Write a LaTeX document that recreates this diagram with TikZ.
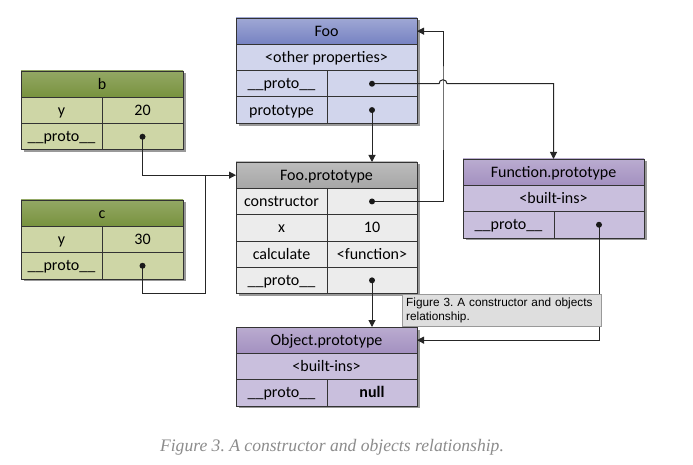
\documentclass[tikz,border=0pt]{standalone}
\usepackage{fontspec}
\setmainfont{Carlito}
\newfontfamily\tipfont{Liberation Sans}
\newfontfamily\capfont{Liberation Serif}
\usetikzlibrary{positioning,shadows,arrows.meta,calc}
\frenchspacing

\definecolor{bluehd}{RGB}{118,130,194}
\definecolor{bluerow}{RGB}{209,213,236}
\definecolor{greenhd}{RGB}{120,146,62}
\definecolor{greenrow}{RGB}{206,214,166}
\definecolor{grayhd}{RGB}{166,166,166}
\definecolor{grayrow}{RGB}{236,236,236}
\definecolor{purphd}{RGB}{163,144,192}
\definecolor{purprow}{RGB}{201,191,221}

\begin{document}
\begin{tikzpicture}[x=1pt,y=-1pt,>={Triangle[length=7pt,width=7pt]},
every node/.style={font=\fontsize{16}{19}\selectfont},
cell/.style={draw=black!80,line width=0.8pt,inner sep=0pt,outer sep=0pt,
    minimum height=26.3pt,text height=12pt,text depth=2pt,
    drop shadow={shadow xshift=2.5pt,
    shadow yshift=-2.5pt,fill=black!40,opacity=1}},
key/.style={cell,minimum width=91pt},
val/.style={cell,minimum width=90pt},
wide/.style={cell,minimum width=181pt},
skey/.style={cell,minimum width=81pt},
swide/.style={cell,minimum width=162pt},
blue/.style={top color=bluehd!70!white,bottom color=bluehd},
green/.style={top color=greenhd!80!white,bottom color=greenhd},
grey/.style={top color=grayhd!75!white,bottom color=grayhd},
purple/.style={top color=purphd!75!white,bottom color=purphd},
link/.style={line width=1pt,black!85},
dot/.style={black!90},
tip/.style={draw=black!40,fill=black!13,align=left,text width=191pt,
    inner xsep=4pt,inner ysep=3pt,minimum height=32pt,
    font=\tipfont\fontsize{11.8}{14}\selectfont}]
\fill[white] (0,0) rectangle (693,465);
\useasboundingbox (0,0) rectangle (693,465);

% Foo
\node[wide,blue,anchor=north west] (foo) at (236,18) {Foo};
\node[wide,fill=bluerow,below=0pt of foo] (foo-oth) {<other properties>};
\node[key,fill=bluerow,anchor=north west] (foo-p) at (foo-oth.south west) {\_\_proto\_\_};
\node[val,fill=bluerow,right=0pt of foo-p] (foo-pv) {};
\node[key,fill=bluerow,below=0pt of foo-p] (foo-t) {prototype};
\node[val,fill=bluerow,right=0pt of foo-t] (foo-tv) {};

% b
\node[swide,green,anchor=north west] (b) at (21,71) {b};
\node[skey,fill=greenrow,anchor=north west] (b-y) at (b.south west) {y};
\node[skey,fill=greenrow,right=0pt of b-y] (b-yv) {20};
\node[skey,fill=greenrow,below=0pt of b-y] (b-p) {\_\_proto\_\_};
\node[skey,fill=greenrow,right=0pt of b-p] (b-pv) {};

% c
\node[swide,green,anchor=north west] (c) at (21,200) {c};
\node[skey,fill=greenrow,anchor=north west] (c-y) at (c.south west) {y};
\node[skey,fill=greenrow,right=0pt of c-y] (c-yv) {30};
\node[skey,fill=greenrow,below=0pt of c-y] (c-p) {\_\_proto\_\_};
\node[skey,fill=greenrow,right=0pt of c-p] (c-pv) {};

% Foo.prototype
\node[wide,grey,anchor=north west] (fp) at (236,162) {Foo.prototype};
\node[key,fill=grayrow,anchor=north west] (fp-c) at (fp.south west) {constructor};
\node[val,fill=grayrow,right=0pt of fp-c] (fp-cv) {};
\node[key,fill=grayrow,below=0pt of fp-c] (fp-x) {x};
\node[val,fill=grayrow,right=0pt of fp-x] (fp-xv) {10};
\node[key,fill=grayrow,below=0pt of fp-x] (fp-f) {calculate};
\node[val,fill=grayrow,right=0pt of fp-f] (fp-fv) {<function>};
\node[key,fill=grayrow,below=0pt of fp-f] (fp-p) {\_\_proto\_\_};
\node[val,fill=grayrow,right=0pt of fp-p] (fp-pv) {};

% Function.prototype
\node[wide,purple,anchor=north west] (fnp) at (463,159) {Function.prototype};
\node[wide,fill=purprow,below=0pt of fnp] (fnp-b) {<built-ins>};
\node[key,fill=purprow,anchor=north west] (fnp-p) at (fnp-b.south west) {\_\_proto\_\_};
\node[val,fill=purprow,right=0pt of fnp-p] (fnp-pv) {};

% Object.prototype
\node[wide,purple,anchor=north west] (op) at (236,327) {Object.prototype};
\node[wide,fill=purprow,below=0pt of op] (op-b) {<built-ins>};
\node[key,fill=purprow,anchor=north west] (op-p) at (op-b.south west) {\_\_proto\_\_};
\node[val,fill=purprow,right=0pt of op-p] (op-pv) {\bfseries null};

\coordinate (ctorx) at (443,100);
\coordinate (cjoin) at (205,293);

% links
\draw[link,->] (foo-tv.center) -- (foo-tv.center |- fp.north);
\draw[link,->] (foo-pv.center) -- ($(foo-pv.center -| ctorx)+(-4,0)$)
    arc[start angle=180,end angle=360,radius=4] -| (fnp.north);
\draw[link,->] (fp-cv.center) -| (ctorx) |- (foo.east);
\draw[link,->] (b-pv.center) |- (fp.west);
\draw[link] (c-pv.center) |- (cjoin) -- (cjoin |- fp.west);
\draw[link,->] (fp-pv.center) -- (fp-pv.center |- op.north);
\draw[link,->] (fnp-pv.center) |- (op.east);
\foreach \d in {foo-pv,foo-tv,b-pv,c-pv,fp-cv,fp-pv,fnp-pv}
  \fill[dot] (\d.center) circle[radius=3];

\node[tip,anchor=north west] (tip) at (402,294) {Figure 3. A constructor and objects\\relationship.};
\node[font=\capfont\itshape\fontsize{17.6}{20}\selectfont,text=black!45] (cap) at (332,447)
    {Figure 3. A constructor and objects relationship.};
\end{tikzpicture}
\end{document}
